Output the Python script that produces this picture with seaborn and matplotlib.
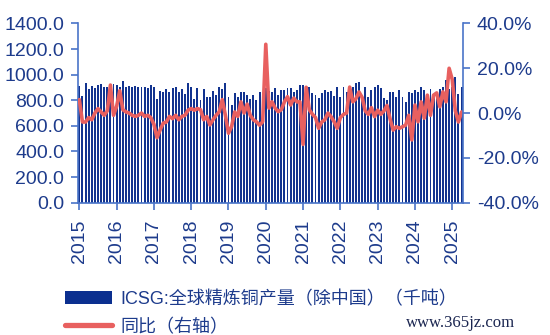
import matplotlib
matplotlib.use('Agg')
import matplotlib.pyplot as plt
import seaborn as sns
import numpy as np
import pandas as pd
from matplotlib.patches import Patch
from matplotlib.lines import Line2D
from matplotlib.ticker import FuncFormatter

# ---------------- data (monthly, 2015-01 .. 2025-04) ----------------
prod = [
    911, 833, 937, 885, 911, 898, 918, 924, 900, 905, 924, 924,   # 2015
    918, 900, 947, 905, 911, 905, 911, 905, 905, 900, 892, 918,   # 2016
    900, 807, 872, 861, 885, 866, 895, 900, 866, 885, 848, 931,   # 2017
    900, 807, 892, 801, 885, 827, 827, 874, 840, 900, 885, 931,   # 2018
    822, 762, 853, 827, 866, 866, 840, 807, 840, 800, 866, 827,   # 2019
    892, 870, 866, 892, 840, 879, 879, 892, 892, 866, 879, 918,   # 2020
    918, 905, 905, 853, 840, 814, 853, 879, 866, 874, 833, 905,   # 2021
    827, 905, 866, 879, 905, 931, 944, 840, 905, 827, 879, 905,   # 2022
    918, 892, 814, 800, 866, 866, 827, 879, 827, 788, 866, 853,   # 2023
    879, 866, 905, 879, 840, 887, 827, 866, 887, 905, 957, 887,   # 2024
    905, 983, 850, 905,                                           # 2025
]
yoy = [
    6, -4, -4, -2, -3, 0, 2, 0.5, -1, 1, 12.5, -1,                # 2015
    3, 10, 1.5, 0.5, 0, -1, -1.5, -1, 0, -1.5, -1, -2,            # 2016
    -5, -11, -7.5, -4.5, -4, -1.5, -2.5, -1, -3, -1.5, -1, 1.3,   # 2017
    2, 1.3, 2, 1.5, -3, -1.5, -5.3, -3, -1, 0.5, 6, -1,           # 2018
    -9, -6, 0.5, -1.5, 5, 0, 4, -1, -3, -3.9, -5.4, -3.9,         # 2019
    30.7, 2.2, 5, 2.2, 0.6, 1.5, 5, 7.3, 3.6, 6.7, 5, 5,          # 2020
    -14, 11.5, 1.5, -0.5, -2, -6.8, -4, -3, 0, -1.6, -3.9, -6.8,  # 2021
    -2, -0.6, 0, 11.6, 5, 6.4, 9.4, 7, 1, -0.6, 2.4, -1.6,        # 2022
    1.3, -0.6, 0.9, 3.4, -2.6, -7.6, -6.1, -6.8, -6.1, -5.4, -1, -12,  # 2023
    3.6, -3.9, 5, -2.3, 8, -1, 8, 9, 2.8, 9.5, 5, 20,             # 2024
    15, 1, -4, 0.5,                                               # 2025
]
years = [str(y) for y in range(2015, 2026)]
bar_label = 'ICSG:全球精炼铜产量（除中国）（千吨）'
line_label = '同比（右轴）'

# ---------------- style ----------------
BAR = '#12338f'
LINE = '#e8605f'
TXT = '#1d3b8c'
SPINE = '#4a74c8'

sns.set_theme(style='white')
plt.rcParams['font.family'] = ['Liberation Sans', 'Noto Sans CJK SC', 'DejaVu Sans']

fig = plt.figure(figsize=(5.5, 3.35), dpi=100)
ax = fig.add_axes([0.142, 0.395, 0.700, 0.535])

df = pd.DataFrame({'idx': np.arange(len(prod)), 'prod': prod, 'yoy': yoy})
sns.barplot(data=df, x='idx', y='prod', color=BAR, width=0.62, saturation=1,
            linewidth=0, ax=ax)
ax2 = ax.twinx()
sns.lineplot(data=df, x='idx', y='yoy', color=LINE, linewidth=2.6, ax=ax2)

ax.set_xlim(-0.4, 123.5)
ax.set_ylim(0, 1400)
ax2.set_ylim(-40, 40)
ax.set_yticks(np.arange(0, 1401, 200))
ax2.set_yticks(np.arange(-40, 41, 20))
ax.yaxis.set_major_formatter(FuncFormatter(lambda v, p: f'{v:.1f}'))
ax2.yaxis.set_major_formatter(FuncFormatter(lambda v, p: f'{v:.1f}%'))
ax.set_xticks(np.arange(0, 124, 12))
ax.set_xticklabels(years, rotation=90)
for a in (ax, ax2):
    a.set_xlabel('')
    a.set_ylabel('')
    a.grid(False)
    a.spines['top'].set_visible(False)
ax.spines['right'].set_visible(False)
ax2.spines['left'].set_visible(False)
ax2.spines['bottom'].set_visible(False)
for s in ('left', 'bottom'):
    ax.spines[s].set_color(SPINE)
    ax.spines[s].set_linewidth(1.2)
ax2.spines['right'].set_color(SPINE)
ax2.spines['right'].set_linewidth(1.2)

ax.tick_params(axis='y', which='major', length=5, width=1.2, color=SPINE,
               labelcolor=TXT, labelsize=14, pad=5, left=True)
ax.tick_params(axis='x', which='major', length=5, width=1.2, color=SPINE,
               labelcolor=TXT, labelsize=14, pad=7, bottom=True)
ax2.tick_params(axis='y', which='major', length=5, width=1.2, color=SPINE,
                labelcolor=TXT, labelsize=14, pad=5, right=True)

handles = [Patch(facecolor='#0b2f8f', edgecolor='none'),
           Line2D([0], [0], color=LINE, lw=3.8)]
fig.legend(handles, [bar_label, line_label], loc='upper left',
           bbox_to_anchor=(0.118, 0.133), frameon=False, fontsize=13,
           handlelength=2.6, handletextpad=0.45, labelspacing=0.6,
           borderaxespad=0, borderpad=0, labelcolor=TXT)

fig.text(0.937, 0.036, 'www.365jz.com', ha='right', va='center',
         family='Liberation Serif', fontsize=12, color='#1a2550')

fig.savefig('out.png', dpi=100)
